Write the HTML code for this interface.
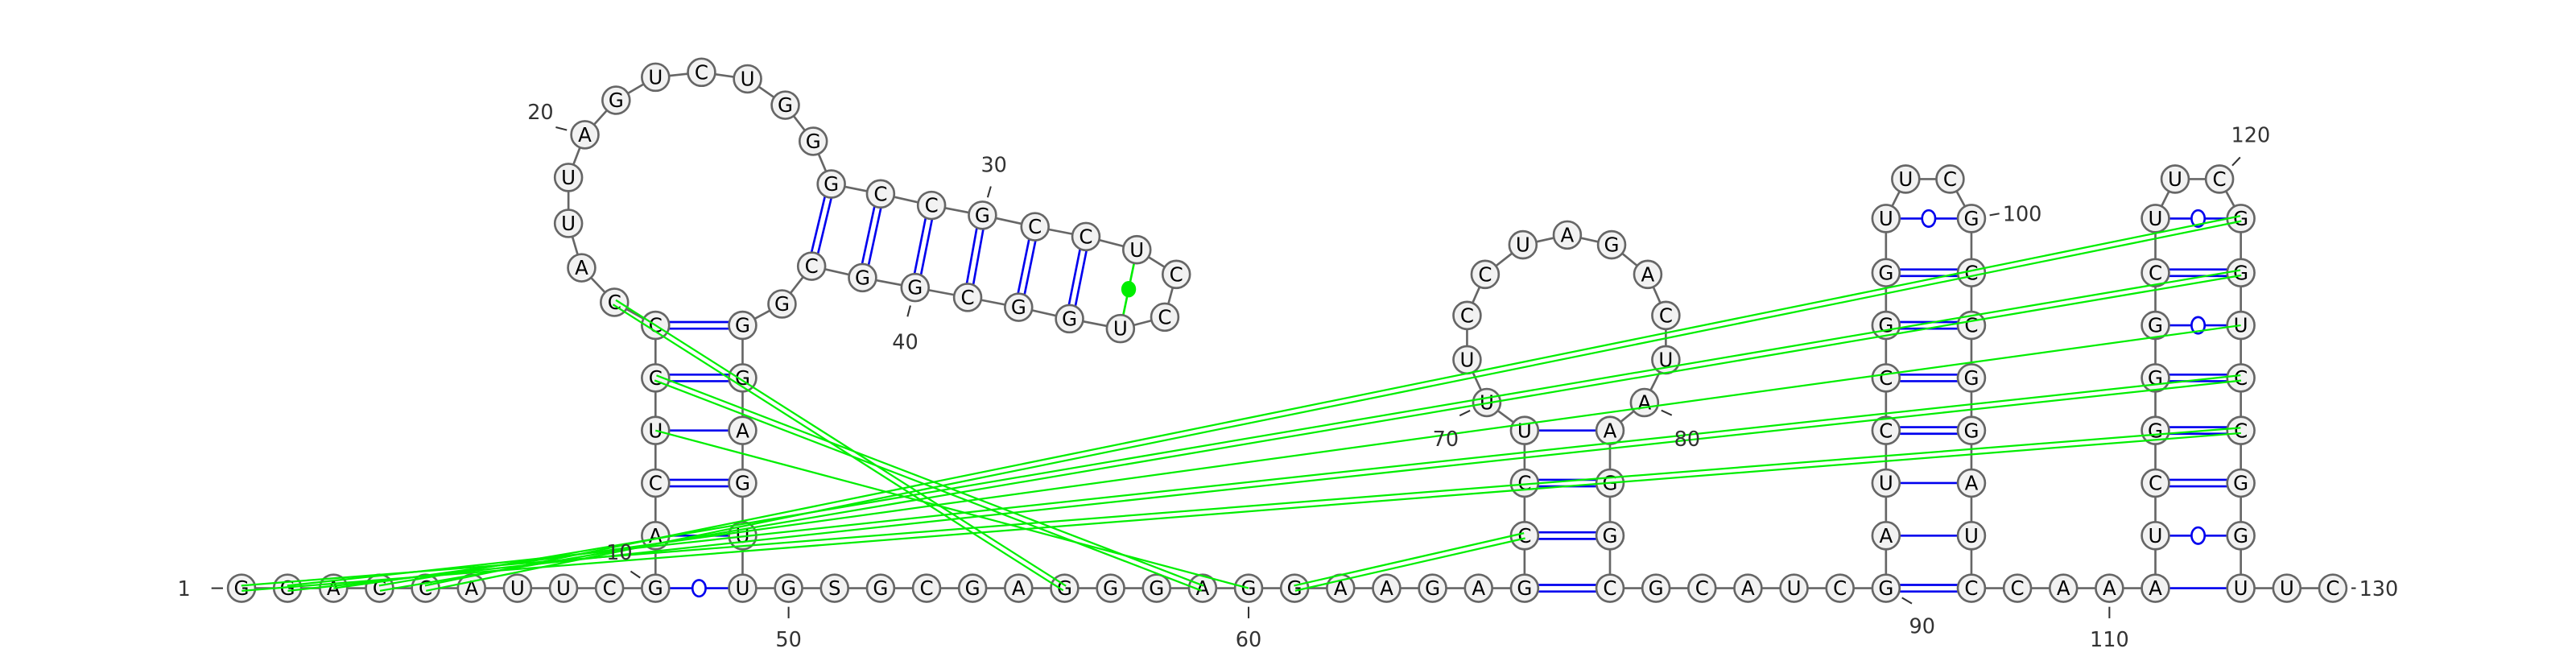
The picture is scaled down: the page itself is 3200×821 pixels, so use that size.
<!DOCTYPE html>
<html><head><meta charset="utf-8"><style>
html,body{margin:0;padding:0;background:#fff;}
svg{display:block;}
text{font-family:"DejaVu Sans","Liberation Sans",sans-serif;}
</style></head><body>
<svg id="rna" width="3200" height="821" viewBox="0 0 1568 402.3" xmlns="http://www.w3.org/2000/svg">
<g id="backbone"></g>
<g id="pairs"></g>
<g id="nts"></g>
<g id="pk"></g>
<g id="labels"></g>
</svg>
<script>
const seq = "GGACCAUUCG" + "ACUCC" + "CAUUAGUCUGG" + "GCCGCCU" + "CC" + "UGGCGGCGG" + "GAGU"
  + "UGSGCGAGGGAGGAAGAG" + "CCUUUCCUAGACUAAGG" + "CGCAUCG" + "AUCCGGU" + "UC" + "GCCGGAU"
  + "CCAAA" + "UCGGGCU" + "UC" + "GGUCCGG" + "UUC";
const bottomY = 358;
const px = [], py = [];
function setPos(i,x,y){px[i]=x;py[i]=y;}
for(let i=1;i<=10;i++) setPos(i,147+(i-1)*28,bottomY);
const stem1L=[[11,326],[12,294],[13,262],[14,230],[15,198]];
stem1L.forEach(a=>setPos(a[0],399,a[1]));
const loop1=[[16,374,184],[17,354,163],[18,346,136],[19,346,108],[20,356,82],[21,375,61],[22,399,47],[23,427,44],[24,455,48],[25,478,64],[26,495,86],
[27,506,112],[28,536,118],[29,567,125],[30,598,131],[31,630,138],[32,661,144],[33,692,152],[34,716,167],[35,709,193],[36,682,200],[37,651,194],[38,620,187],[39,589,181],[40,557,175],[41,525,169],[42,494,162],[43,476,185],[44,452,198]];
loop1.forEach(a=>setPos(a[0],a[1],a[2]));
[[45,230],[46,262],[47,294],[48,326]].forEach(a=>setPos(a[0],452,a[1]));
for(let i=49;i<=66;i++) setPos(i,452+(i-49)*28,bottomY);
const loop3=[[67,928,326],[68,928,294],[69,928,262],[70,905,245],[71,893,219],[72,893,192],[73,904,167],[74,927,149],[75,954,143],[76,981,149],[77,1003,167],[78,1014,192],[79,1014,219],[80,1001,245],[81,980,262],[82,980,294],[83,980,326]];
loop3.forEach(a=>setPos(a[0],a[1],a[2]));
for(let i=84;i<=90;i++) setPos(i,980+(i-84)*28,bottomY);
const ys=[326,294,262,230,198,166,133];
for(let k=0;k<7;k++) setPos(91+k,1148,ys[k]);
setPos(98,1160,109); setPos(99,1187,109);
for(let k=0;k<7;k++) setPos(100+k,1200,ys[6-k]);
for(let i=107;i<=111;i++) setPos(i,1200+(i-107)*28,bottomY);
for(let k=0;k<7;k++) setPos(112+k,1312,ys[k]);
setPos(119,1324,109); setPos(120,1351,109);
for(let k=0;k<7;k++) setPos(121+k,1364,ys[6-k]);
for(let i=128;i<=130;i++) setPos(i,1364+(i-128)*28,bottomY);

const pairs = [[10,49,'w'],[11,48,'s'],[12,47,'d'],[13,46,'s'],[14,45,'d'],[15,44,'d'],
[27,42,'d'],[28,41,'d'],[29,40,'d'],[30,39,'d'],[31,38,'d'],[32,37,'d'],[33,36,'n'],
[66,84,'d'],[67,83,'d'],[68,82,'d'],[69,81,'s'],
[90,107,'d'],[91,106,'s'],[92,105,'s'],[93,104,'d'],[94,103,'d'],[95,102,'d'],[96,101,'d'],[97,100,'w'],
[111,128,'s'],[112,127,'w'],[113,126,'d'],[114,125,'d'],[115,124,'d'],[116,123,'w'],[117,122,'d'],[118,121,'w']];
const pseudo = [[1,125,'d'],[2,124,'d'],[3,123,'s'],[4,122,'d'],[5,121,'d'],[16,56,'d'],[14,59,'d'],[13,60,'s'],[61,67,'d']];
const labelNums = [1,10,20,30,40,50,60,70,80,90,100,110,120,130];
const labelPos = {1:[116,358,'r'],10:[377,336],20:[329,68],30:[605,100],40:[551,208],50:[480,389],60:[760,389],70:[880,267],80:[1027,267],90:[1170,381],100:[1219,130,'l'],110:[1284,389],120:[1370,82],130:[1436,358,'l']};

const NS="http://www.w3.org/2000/svg";
function mk(tag,attrs,parent){const e=document.createElementNS(NS,tag);for(const k in attrs)e.setAttribute(k,attrs[k]);parent.appendChild(e);return e;}
const gb=document.getElementById('backbone'),gp=document.getElementById('pairs'),gn=document.getElementById('nts'),gk=document.getElementById('pk'),gl=document.getElementById('labels');
const R=8.3;
for(let i=1;i<130;i++){
  const l=mk('line',{x1:px[i],y1:py[i],x2:px[i+1],y2:py[i+1],stroke:'#666','stroke-width':1.3},gb);
  
  
}
function dbl(a,b,col,off,w,parent,name){
  const dx=px[b]-px[a],dy=py[b]-py[a],L=Math.hypot(dx,dy),nx=-dy/L*off,ny=dx/L*off;
  [-1,1].forEach(s=>{const l=mk('line',{x1:px[a]+nx*s,y1:py[a]+ny*s,x2:px[b]+nx*s,y2:py[b]+ny*s,stroke:col,'stroke-width':w},parent);
  
  });
}
function sgl(a,b,col,w,parent,name){
  const l=mk('line',{x1:px[a],y1:py[a],x2:px[b],y2:py[b],stroke:col,'stroke-width':w},parent);
  
  
}
pairs.forEach(p=>{
  const [a,b,t]=p;
  if(t==='d') dbl(a,b,'#0000ee',2,1.3,gp,'base-pair-gc');
  else if(t==='s') sgl(a,b,'#0000ee',1.3,gp,'base-pair-au');
  else if(t==='w'){ sgl(a,b,'#0000ee',1.3,gp,'base-pair-gu');
    const c=mk('ellipse',{cx:(px[a]+px[b])/2,cy:(py[a]+py[b])/2,rx:4,ry:5,fill:'#fff',stroke:'#0000ee','stroke-width':1.3},gp);
    
    }
  else { sgl(a,b,'#00ee00',1.3,gp,'noncanonical-pair');
    const c=mk('ellipse',{cx:(px[a]+px[b])/2,cy:(py[a]+py[b])/2,rx:4.5,ry:5,fill:'#00ee00'},gp);
    
    }
});
for(let i=1;i<=130;i++){
  const g=mk('g',{},gn);
  
  
  mk('circle',{cx:px[i],cy:py[i],r:R,fill:'#f2f2f2',stroke:'#666','stroke-width':1.3},g);
  const t=mk('text',{x:px[i],y:py[i]+4.2,'text-anchor':'middle','font-size':12,fill:'#000'},g);
  t.textContent=seq[i-1];
}
pseudo.forEach(p=>{
  const [a,b,t]=p;
  if(t==='d') dbl(a,b,'#00ee00',1.6,1.1,gk,'pseudoknot-pair');
  else sgl(a,b,'#00ee00',1.1,gk,'pseudoknot-pair');
});
labelNums.forEach(n=>{
  const [x,y,al]=labelPos[n];
  const t=mk('text',{x:x,y:y+4.5,'font-size':12.5,fill:'#333','text-anchor':al==='l'?'start':(al==='r'?'end':'middle')},gl);
  t.textContent=n;
  
  
  let tx1,ty1;
  if(al==='r'){tx1=x+6;ty1=y;}else if(al==='l'){tx1=x-2;ty1=y;}else{tx1=x;ty1=y+(y<py[n]?7:-10);}
  const dx=px[n]-tx1,dy=py[n]-ty1,L=Math.hypot(dx,dy);
  const ex=px[n]-dx/L*(R+3),ey=py[n]-dy/L*(R+3);
  const sx=ex-dx/L*Math.min(7,L-R-3),sy=ey-dy/L*Math.min(7,L-R-3);
  const l=mk('line',{x1:sx,y1:sy,x2:ex,y2:ey,stroke:'#333','stroke-width':1},gl);
  
  
});
</script>
</body></html>
